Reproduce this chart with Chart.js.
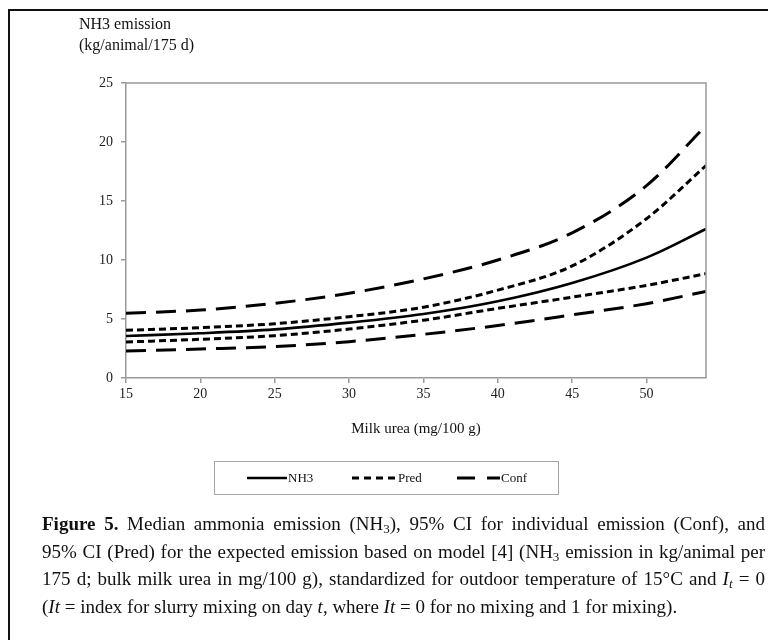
<!DOCTYPE html>
<html>
<head>
<meta charset="utf-8">
<script src="https://cdn.jsdelivr.net/npm/chart.js@4.4.1/dist/chart.umd.min.js"></script>
<style>
  html, body { margin: 0; padding: 0; background: #fff; }
  #wrap { position: relative; width: 768px; height: 640px; overflow: hidden; font-family: "Liberation Serif", "Times New Roman", serif; color: #111; }
  #frame { position: absolute; left: 8px; top: 9px; width: 800px; height: 700px; border-left: 2px solid #111; border-top: 2px solid #111; }
  #chartBox { position: absolute; left: 0; top: 0; width: 768px; height: 640px; }
  .ytitle { position: absolute; left: 79px; font-size: 16px; line-height: 18px; white-space: nowrap; }
  #xtitle { position: absolute; left: 126px; width: 580px; top: 420px; text-align: center; font-size: 15px; white-space: nowrap; }
  #caption { position: absolute; left: 42px; top: 510px; width: 723px; font-size: 19px; line-height: 27.5px; transform-origin: 0 0; }
  #caption .l { text-align: justify; text-align-last: justify; white-space: nowrap; }
  #caption .last { text-align: left; white-space: nowrap; }
  sub { font-size: 13px; vertical-align: -3px; line-height: 0; }
</style>
</head>
<body>
<div id="wrap">
  <div id="frame"></div>
  <div id="chartBox"><canvas id="c" width="768" height="640"></canvas></div>
  <div class="ytitle" style="top:15px">NH3 emission</div>
  <div class="ytitle" style="top:36px">(kg/animal/175 d)</div>
  <div id="xtitle">Milk urea (mg/100 g)</div>
  <div id="caption">
    <div class="l"><b>Figure 5.</b> Median ammonia emission (NH<sub>3</sub>), 95% CI for individual emission (Conf), and</div>
    <div class="l">95% CI (Pred) for the expected emission based on model [4] (NH<sub>3</sub> emission in kg/animal per</div>
    <div class="l">175 d; bulk milk urea in mg/100 g), standardized for outdoor temperature of 15°C and <i>I<sub>t</sub></i> = 0</div>
    <div class="last">(<i>It</i> = index for slurry mixing on day <i>t</i>, where <i>It</i> = 0 for no mixing and 1 for mixing).</div>
  </div>
</div>
<script>
// Data
const milkUrea   = [15, 20, 25, 30, 35, 40, 45, 50, 54];
const nh3        = [3.56, 3.79, 4.12, 4.69, 5.42, 6.50, 8.05, 10.2, 12.63];
const predUpper  = [4.04, 4.27, 4.60, 5.20, 6.00, 7.45, 9.50, 13.5, 18.0];
const predLower  = [3.05, 3.28, 3.59, 4.15, 4.90, 5.90, 6.85, 7.85, 8.84];
const confUpper  = [5.48, 5.76, 6.33, 7.18, 8.40, 10.0, 12.3, 16.3, 21.4];
const confLower  = [2.29, 2.46, 2.66, 3.08, 3.70, 4.45, 5.35, 6.30, 7.34];
const xTicks     = [15, 20, 25, 30, 35, 40, 45, 50];
const yTicks     = [0, 5, 10, 15, 20, 25];
const legendLabels = ['NH3', 'Pred', 'Conf'];

// keep justified caption lines inside the available width
(function fitCaption() {
  const cap = document.getElementById('caption');
  let maxW = 0;
  cap.querySelectorAll('div').forEach(d => {
    const r = document.createRange(); r.selectNodeContents(d);
    maxW = Math.max(maxW, r.getBoundingClientRect().width);
  });
  if (maxW > 723) {
    const s = 723 / maxW;
    cap.style.width = (723 / s) + 'px';
    cap.style.transform = 'scaleX(' + s + ')';
  }
})();

const pts = arr => arr.map((v, i) => ({ x: milkUrea[i], y: v }));
const AXIS = '#9a9a9a';
const FONT = '"Liberation Serif", "Times New Roman", serif';

const solid = { borderColor: '#000', borderWidth: 2.6, borderDash: [] };
const pred  = { borderColor: '#000', borderWidth: 3, borderDash: [7, 4] };
const conf  = { borderColor: '#000', borderWidth: 3, borderDash: [20, 10] };

const common = { pointRadius: 0, fill: false, cubicInterpolationMode: 'monotone', borderCapStyle: 'butt' };

const framePlugin = {
  id: 'frame',
  afterDraw(chart) {
    const { ctx, chartArea: a } = chart;
    ctx.save();
    ctx.strokeStyle = AXIS;
    ctx.lineWidth = 1.5;
    ctx.beginPath();
    ctx.moveTo(a.left, a.top); ctx.lineTo(a.right, a.top); ctx.lineTo(a.right, a.bottom);
    ctx.stroke();
    ctx.restore();
  }
};

const legendPlugin = {
  id: 'boxLegend',
  afterDraw(chart) {
    const ctx = chart.ctx;
    ctx.save();
    ctx.strokeStyle = '#a8a8a8';
    ctx.lineWidth = 1;
    ctx.strokeRect(214.5, 461.5, 344, 33);
    const items = [
      { ds: 0, x0: 247, x1: 287, tx: 288, dash: [] },
      { ds: 1, x0: 352, x1: 396, tx: 398, dash: [7, 5] },
      { ds: 3, x0: 457, x1: 500, tx: 501, dash: [18, 12] }
    ];
    const y = 478;
    items.forEach((it, i) => {
      const ds = chart.data.datasets[it.ds];
      ctx.strokeStyle = ds.borderColor;
      ctx.lineWidth = ds.borderWidth;
      ctx.setLineDash(it.dash);
      ctx.beginPath(); ctx.moveTo(it.x0, y); ctx.lineTo(it.x1, y); ctx.stroke();
      ctx.setLineDash([]);
      ctx.fillStyle = '#111';
      ctx.font = '13px ' + FONT;
      ctx.textBaseline = 'middle';
      ctx.textAlign = 'left';
      ctx.fillText(legendLabels[i], it.tx, y + 1);
    });
    ctx.restore();
  }
};

new Chart(document.getElementById('c'), {
  type: 'line',
  data: {
    datasets: [
      Object.assign({ label: 'NH3', data: pts(nh3) }, solid, common),
      Object.assign({ label: 'Pred', data: pts(predUpper) }, pred, common),
      Object.assign({ label: 'Pred', data: pts(predLower) }, pred, common),
      Object.assign({ label: 'Conf', data: pts(confUpper) }, conf, common),
      Object.assign({ label: 'Conf', data: pts(confLower) }, conf, common)
    ]
  },
  options: {
    responsive: false,
    animation: false,
    events: [],
    layout: { padding: { left: 0, right: 62, top: 83, bottom: 232 } },
    plugins: { legend: { display: false }, tooltip: { enabled: false } },
    scales: {
      x: {
        type: 'linear', min: 15, max: 54,
        afterFit(s) { s.height = 30; },
        afterBuildTicks(s) { s.ticks = xTicks.map(v => ({ value: v })); },
        ticks: { color: '#222', font: { family: FONT, size: 14 }, padding: 3, maxRotation: 0 },
        grid: { display: true, drawOnChartArea: false, drawTicks: true, tickLength: 5, color: AXIS, lineWidth: 1.5 },
        border: { display: true, color: AXIS, width: 1.5 }
      },
      y: {
        type: 'linear', min: 0, max: 25,
        afterFit(s) { s.width = 126; },
        afterBuildTicks(s) { s.ticks = yTicks.map(v => ({ value: v })); },
        ticks: { color: '#222', font: { family: FONT, size: 14 }, padding: 8 },
        grid: { display: true, drawOnChartArea: false, drawTicks: true, tickLength: 5, color: AXIS, lineWidth: 1.5 },
        border: { display: true, color: AXIS, width: 1.5 }
      }
    }
  },
  plugins: [framePlugin, legendPlugin]
});
</script>
</body>
</html>
